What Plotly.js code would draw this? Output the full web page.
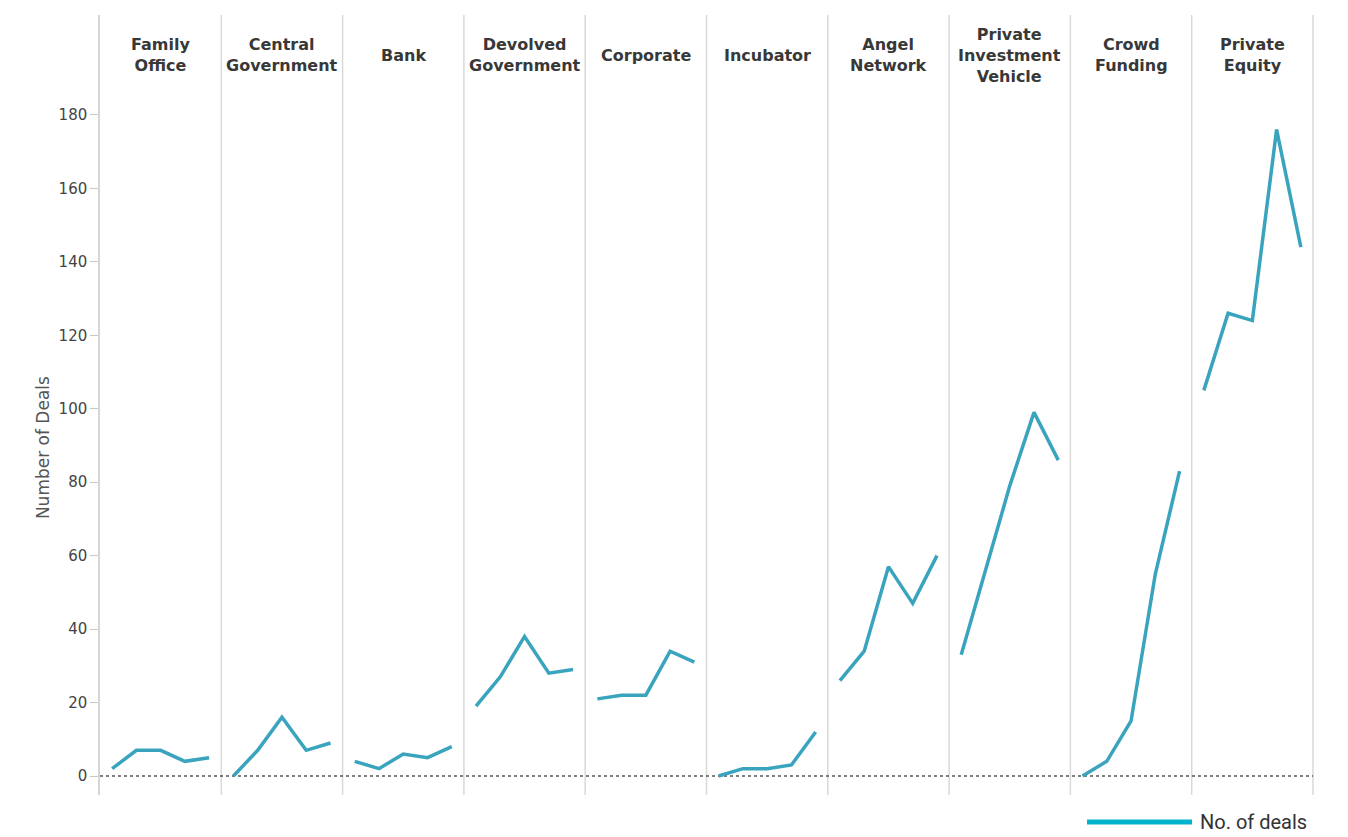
<!DOCTYPE html>
<html>
<head>
<meta charset="utf-8">
<script src="https://cdn.plot.ly/plotly-3.0.1.min.js"></script>
<style>
  html, body { margin: 0; padding: 0; background: #ffffff; }
  #chart { width: 1348px; height: 837px; }
</style>
</head>
<body>
<div id="chart"></div>
<script>
// ---- Data ----
const periods = [1, 2, 3, 4, 5];
const categories = [
  'Family<br>Office',
  'Central<br>Government',
  'Bank',
  'Devolved<br>Government',
  'Corporate',
  'Incubator',
  'Angel<br>Network',
  'Private<br>Investment<br>Vehicle',
  'Crowd<br>Funding',
  'Private<br>Equity'
];
const familyOffice       = [2, 7, 7, 4, 5];
const centralGovernment  = [0, 7, 16, 7, 9];
const bank               = [4, 2, 6, 5, 8];
const devolvedGovernment = [19, 27, 38, 28, 29];
const corporate          = [21, 22, 22, 34, 31];
const incubator          = [0, 2, 2, 3, 12];
const angelNetwork       = [26, 34, 57, 47, 60];
const privateInvestmentVehicle = [33, 56, 79, 99, 86];
const crowdFunding       = [0, 4, 15, 55, 83];
const privateEquity      = [105, 126, 124, 176, 144];
const seriesValues = [familyOffice, centralGovernment, bank, devolvedGovernment,
  corporate, incubator, angelNetwork, privateInvestmentVehicle, crowdFunding, privateEquity];
const yTickValues = [0, 20, 40, 60, 80, 100, 120, 140, 160, 180];
const seriesName = 'No. of deals';
const yTitle = 'Number of Deals';

// ---- Styles ----
const lineColor = '#3aa4be';
const sepColor = '#d9d9d9';
const n = categories.length;

const traces = [];
const layout = {
  width: 1348,
  height: 837,
  margin: { l: 100, r: 35, t: 15, b: 42 },
  paper_bgcolor: '#ffffff',
  plot_bgcolor: '#ffffff',
  showlegend: false,
  font: { family: 'DejaVu Sans, Verdana, sans-serif', color: '#444' },
  yaxis: {
    range: [-5.17, 207.2],
    tickvals: yTickValues,
    ticks: 'outside',
    ticklen: 8,
    tickcolor: '#c8c8c8',
    tickwidth: 1,
    showline: true,
    linecolor: '#d5d5d5',
    linewidth: 1.5,
    showgrid: false,
    zeroline: false,
    tickfont: { size: 15, color: '#444', family: 'DejaVu Sans, Verdana, sans-serif' }
  },
  shapes: [],
  annotations: []
};

for (let i = 0; i < n; i++) {
  const xa = i === 0 ? 'x' : 'x' + (i + 1);
  const axKey = i === 0 ? 'xaxis' : 'xaxis' + (i + 1);
  traces.push({
    type: 'scatter',
    mode: 'lines',
    x: periods,
    y: seriesValues[i],
    xaxis: xa,
    yaxis: 'y',
    name: seriesName,
    line: { color: lineColor, width: 3.5 },
    hoverinfo: 'y'
  });
  layout[axKey] = {
    domain: [i / n, (i + 1) / n],
    range: [0.5, 5.5],
    anchor: 'y',
    showticklabels: false,
    showgrid: false,
    zeroline: false,
    showline: false,
    ticks: ''
  };
  layout.annotations.push({
    xref: 'paper', yref: 'paper',
    x: (i + 0.5) / n, y: 0.9487,
    xanchor: 'center', yanchor: 'middle',
    text: '<b>' + categories[i] + '</b>',
    showarrow: false,
    align: 'center',
    font: { size: 16, color: '#383838', family: 'DejaVu Sans, Verdana, sans-serif' }
  });
}

// y axis title (placed like the reference, below the plot's mid-height)
layout.annotations.push({
  xref: 'paper', yref: 'paper',
  x: -0.047, y: 0.446,
  xanchor: 'center', yanchor: 'middle',
  textangle: -90,
  text: yTitle,
  showarrow: false,
  font: { size: 17, color: '#555', family: 'DejaVu Sans, Verdana, sans-serif' }
});

// panel separators
for (let k = 1; k <= n; k++) {
  layout.shapes.push({
    type: 'line', xref: 'paper', yref: 'paper',
    x0: k / n, x1: k / n, y0: 0, y1: 1,
    line: { color: sepColor, width: 1.5 },
    layer: 'below'
  });
}
// dotted zero line
layout.shapes.push({
  type: 'line', xref: 'paper', yref: 'y',
  x0: 0, x1: 1, y0: 0, y1: 0,
  line: { color: '#555555', width: 1.5, dash: 'dot' },
  layer: 'below'
});
// legend sample
layout.shapes.push({
  type: 'line', xref: 'paper', yref: 'paper',
  x0: 0.8137, x1: 0.9003, y0: -0.0346, y1: -0.0346,
  line: { color: '#00b3cc', width: 5 }
});
layout.annotations.push({
  xref: 'paper', yref: 'paper',
  x: 0.9052, y: -0.0346,
  xanchor: 'left', yanchor: 'middle',
  text: seriesName,
  showarrow: false,
  font: { size: 20, color: '#333', family: 'Liberation Sans Narrow, Roboto, sans-serif' }
});

Plotly.newPlot('chart', traces, layout, { displayModeBar: false, responsive: false });
</script>
</body>
</html>
